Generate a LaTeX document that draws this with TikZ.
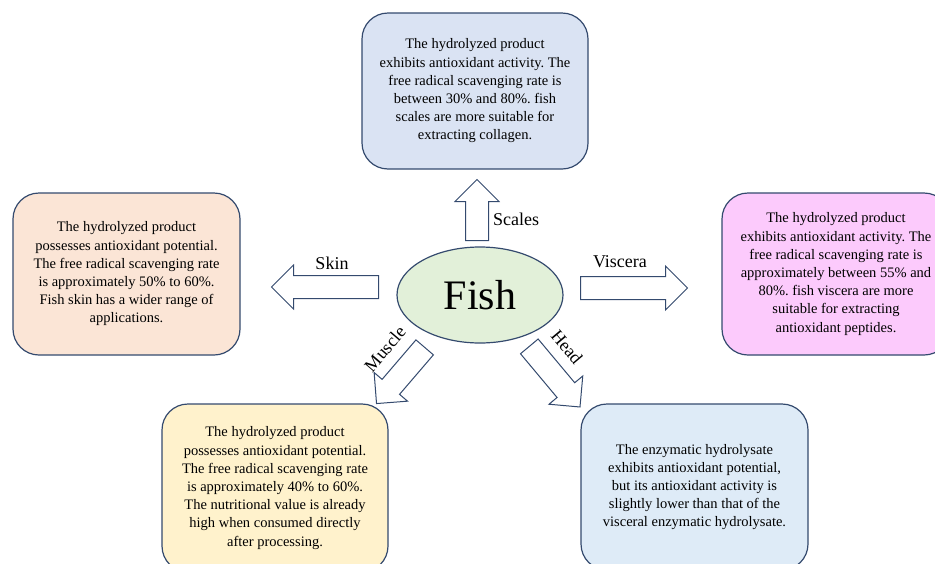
\documentclass[tikz,border=0pt]{standalone}
\usepackage{fontspec}
\setmainfont{Liberation Serif}
\usetikzlibrary{shapes.arrows,shapes.geometric}
\definecolor{edgeblue}{RGB}{52,74,110}
\definecolor{scalesfill}{RGB}{218,227,243}
\definecolor{skinfill}{RGB}{251,229,214}
\definecolor{viscerafill}{RGB}{252,202,252}
\definecolor{musclefill}{RGB}{255,242,204}
\definecolor{headfill}{RGB}{222,235,247}
\definecolor{fishfill}{RGB}{226,240,217}
\frenchspacing

\begin{document}
\begin{tikzpicture}[x=1pt,y=-1pt,
  infobox/.style={draw=edgeblue,line width=1.2pt,rounded corners=26pt,align=center,inner sep=0pt,font=\fontsize{14.5}{18.2}\selectfont},
  partarrow/.style={single arrow,anchor=tail,draw=edgeblue,fill=white,line width=1pt,inner sep=0pt,inner ysep=11pt,minimum width=43pt,single arrow head extend=10.5pt},
  partlabel/.style={font=\fontsize{18}{20}\selectfont}]
\useasboundingbox(0,0)rectangle(935,563);\clip(0,0)rectangle(935,563);
% centre
\node[ellipse,draw=edgeblue,line width=1.2pt,fill=fishfill,minimum width=166pt,minimum height=96pt,inner sep=0pt,font=\fontsize{42}{42}\selectfont](fish)at(480,295){Fish};
% text boxes
\node[infobox,fill=scalesfill,minimum width=226pt,minimum height=156pt](scalesbox)at(475,91){The hydrolyzed product\\exhibits antioxidant activity. The\\free radical scavenging rate is\\between 30\% and 80\%. fish\\scales are more suitable for\\extracting collagen.};
\node[infobox,fill=skinfill,minimum width=227pt,minimum height=162pt](skinbox)at(126.5,274){The hydrolyzed product\\possesses antioxidant potential.\\The free radical scavenging rate\\is approximately 50\% to 60\%.\\Fish skin has a wider range of\\applications.};
\node[infobox,fill=viscerafill,minimum width=228pt,minimum height=162pt](viscerabox)at(836,274){The hydrolyzed product\\exhibits antioxidant activity. The\\free radical scavenging rate is\\approximately between 55\% and\\80\%. fish viscera are more\\suitable for extracting\\antioxidant peptides.};
\node[infobox,fill=musclefill,minimum width=226pt,minimum height=168pt](musclebox)at(275,488){The hydrolyzed product\\possesses antioxidant potential.\\The free radical scavenging rate\\is approximately 40\% to 60\%.\\The nutritional value is already\\high when consumed directly\\after processing.};
\node[infobox,fill=headfill,minimum width=227pt,minimum height=166pt](headbox)at(694.5,487){The enzymatic hydrolysate\\exhibits antioxidant potential,\\but its antioxidant activity is\\slightly lower than that of the\\visceral enzymatic hydrolysate.};
% block arrows, placed by their tails
\node[partarrow,minimum height=61pt,rotate=90](scalesarrow)at(477,241){};
\node[partarrow,minimum height=107pt,rotate=180](skinarrow)at(379,287){};
\node[partarrow,minimum height=107pt](visceraarrow)at(580,288){};
\node[partarrow,minimum height=74pt,rotate=-130.6](musclearrow)at(425,347){};
\node[partarrow,minimum height=79pt,rotate=-50.1](headarrow)at(529,346){};
% labels
\node[partlabel](scaleslabel)at(516,219){Scales};
\node[partlabel](skinlabel)at(332,263){Skin};
\node[partlabel](visceralabel)at(620,262){Viscera};
\node[partlabel,rotate=49.4](musclelabel)at(385,349){Muscle};
\node[partlabel,rotate=-50](headlabel)at(567,347){Head};
\end{tikzpicture}
\end{document}
